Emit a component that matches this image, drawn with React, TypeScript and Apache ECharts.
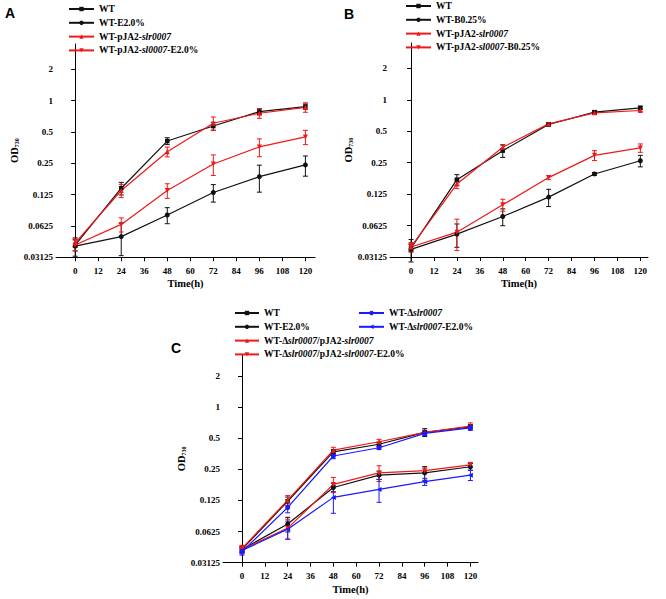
import React, { useEffect, useRef } from "react";
import * as echarts from "echarts";

// ---------- shared axes ----------
const times = [0, 24, 48, 72, 96, 120];
const xTicks = [0, 12, 24, 36, 48, 60, 72, 84, 96, 108, 120];
const yTicks = [0.03125, 0.0625, 0.125, 0.25, 0.5, 1, 2];
const yTickLabels = ["0.03125", "0.0625", "0.125", "0.25", "0.5", "1", "2"];

// ---------- panel A ----------
const namesA = ["WT", "WT-E2.0%", "WT-pJA2-slr0007", "WT-pJA2-sl0007-E2.0%"];
const aWT = [0.041, 0.144, 0.409, 0.57, 0.785, 0.877];
const aWTErr = [0.005, 0.02, 0.031, 0.05, 0.05, 0.05];
const aWTE = [0.04, 0.0494, 0.0797, 0.131, 0.186, 0.241];
const aWTEErr = [0.008, 0.017, 0.014, 0.025, 0.054, 0.053];
const aPJA = [0.043, 0.137, 0.323, 0.606, 0.756, 0.863];
const aPJAErr = [0.004, 0.02, 0.035, 0.09, 0.08, 0.09];
const aPJAE = [0.041, 0.0647, 0.137, 0.246, 0.359, 0.448];
const aPJAEErr = [0.005, 0.01, 0.022, 0.055, 0.07, 0.07];

// ---------- panel B ----------
const namesB = ["WT", "WT-B0.25%", "WT-pJA2-slr0007", "WT-pJA2-sl0007-B0.25%"];
const bWT = [0.038, 0.172, 0.326, 0.58, 0.761, 0.838];
const bWTErr = [0.003, 0.02, 0.045, 0.02, 0.03, 0.03];
const bWTB = [0.037, 0.0517, 0.0763, 0.117, 0.195, 0.261];
const bWTBErr = [0.009, 0.013, 0.014, 0.022, 0.006, 0.033];
const bPJA = [0.039, 0.156, 0.351, 0.588, 0.75, 0.79];
const bPJAErr = [0.003, 0.015, 0.016, 0.015, 0.02, 0.02];
const bPJAB = [0.039, 0.054, 0.0987, 0.18, 0.294, 0.346];
const bPJABErr = [0.004, 0.018, 0.013, 0.008, 0.032, 0.032];

// ---------- panel C ----------
const namesC = [
  "WT",
  "WT-E2.0%",
  "WT-Δslr0007/pJA2-slr0007",
  "WT-Δslr0007/pJA2-slr0007-E2.0%",
  "WT-Δslr0007",
  "WT-Δslr0007-E2.0%",
];
const cWT = [0.042, 0.123, 0.37, 0.438, 0.57, 0.646];
const cWTErr = [0.003, 0.012, 0.02, 0.02, 0.05, 0.03];
const cWTE = [0.042, 0.074, 0.167, 0.22, 0.231, 0.265];
const cWTEErr = [0.003, 0.012, 0.015, 0.02, 0.035, 0.02];
const cComp = [0.043, 0.126, 0.384, 0.463, 0.57, 0.655];
const cCompErr = [0.003, 0.014, 0.025, 0.025, 0.03, 0.05];
const cCompE = [0.042, 0.0675, 0.179, 0.231, 0.243, 0.277];
const cCompEErr = [0.003, 0.015, 0.03, 0.04, 0.015, 0.015];
const cDel = [0.04, 0.107, 0.337, 0.405, 0.558, 0.632];
const cDelErr = [0.003, 0.012, 0.02, 0.015, 0.025, 0.035];
const cDelE = [0.041, 0.066, 0.134, 0.16, 0.19, 0.22];
const cDelEErr = [0.003, 0.013, 0.04, 0.04, 0.015, 0.025];

// ---------- styles ----------
const BLACK = "#111111";
const RED = "#f01818";
const BLUE = "#1a1aff";
const FONT = "Liberation Serif";

type Sty = { color: string; symbol: string; rotate: number };
const stSquare: Sty = { color: BLACK, symbol: "rect", rotate: 0 };
const stCircle: Sty = { color: BLACK, symbol: "circle", rotate: 0 };
const stUp: Sty = { color: RED, symbol: "triangle", rotate: 0 };
const stDown: Sty = { color: RED, symbol: "triangle", rotate: 180 };
const stBlueCircle: Sty = { color: BLUE, symbol: "circle", rotate: 0 };
const stBlueLeft: Sty = { color: BLUE, symbol: "triangle", rotate: 90 };

const richName = (n: string) => n.replace(/(slr0007|sl0007)/g, "{i|$1}");

const legendText = {
  fontFamily: FONT,
  fontWeight: "bold" as const,
  fontSize: 9.5,
  color: "#000",
  rich: {
    i: { fontFamily: FONT, fontWeight: "bold" as const, fontStyle: "italic" as const, fontSize: 9.5, color: "#000" },
  },
};

function buildPanel(
  gi: number,
  names: string[],
  vals: number[][],
  errs: number[][],
  stys: Sty[]
) {
  const out: any[] = [];
  names.forEach((name, k) => {
    const st = stys[k];
    out.push({
      type: "line",
      name,
      xAxisIndex: gi,
      yAxisIndex: gi,
      data: times.map((t, i) => [t, vals[k][i]]),
      symbol: st.symbol,
      symbolRotate: st.rotate,
      symbolSize: st.symbol === "rect" ? 4.5 : 5,
      showSymbol: true,
      lineStyle: { color: st.color, width: 1.2 },
      itemStyle: { color: st.color },
      z: 3,
    });
    out.push({
      type: "custom",
      name: "err-" + gi + "-" + k,
      xAxisIndex: gi,
      yAxisIndex: gi,
      data: times.map((t, i) => [t, vals[k][i] - errs[k][i], vals[k][i] + errs[k][i]]),
      encode: { x: 0, y: [1, 2] },
      z: 2,
      renderItem: (_p: any, api: any) => {
        const x = api.value(0);
        const top = api.coord([x, api.value(2)]);
        const bot = api.coord([x, api.value(1)]);
        const w = 2.5;
        const s = { stroke: st.color, lineWidth: 1 };
        return {
          type: "group",
          children: [
            { type: "line", shape: { x1: top[0], y1: top[1], x2: bot[0], y2: bot[1] }, style: s },
            { type: "line", shape: { x1: top[0] - w, y1: top[1], x2: top[0] + w, y2: top[1] }, style: s },
            { type: "line", shape: { x1: bot[0] - w, y1: bot[1], x2: bot[0] + w, y2: bot[1] }, style: s },
          ],
        };
      },
    });
  });
  return out;
}

const axisFont = { fontFamily: FONT, fontWeight: "bold" as const, fontSize: 9, color: "#000" };

function xAxis(gi: number, min: number, max: number) {
  return {
    type: "value",
    gridIndex: gi,
    min,
    max,
    name: "Time(h)",
    nameLocation: "middle",
    nameGap: 21,
    nameTextStyle: { fontFamily: FONT, fontWeight: "bold", fontSize: 10.5, color: "#000" },
    axisLine: { show: true, onZero: false, lineStyle: { color: "#000", width: 1 } },
    axisTick: { show: true, length: 4, lineStyle: { color: "#000" }, customValues: xTicks },
    axisLabel: { ...axisFont, margin: 9, customValues: xTicks, formatter: (v: number) => String(v) },
    splitLine: { show: false },
  };
}

function yAxis(gi: number, max: number) {
  return {
    type: "log",
    logBase: 2,
    gridIndex: gi,
    min: 0.03125,
    max,
    name: "{a|OD}{b|730}",
    nameLocation: "middle",
    nameGap: 25,
    nameRotate: 90,
    nameTextStyle: {
      rich: {
        a: { fontFamily: FONT, fontWeight: "bold", fontSize: 10.5, color: "#000" },
        b: { fontFamily: FONT, fontWeight: "bold", fontSize: 6, color: "#000", verticalAlign: "bottom", padding: [4, 0, 0, 0] },
      },
    },
    axisLine: { show: true, lineStyle: { color: "#000", width: 1 } },
    axisTick: { show: true, length: 4, lineStyle: { color: "#000" }, customValues: yTicks },
    axisLabel: {
      ...axisFont,
      margin: 3,
      customValues: yTicks,
      formatter: (v: number) => {
        let best = 0;
        yTicks.forEach((t, i) => {
          if (Math.abs(Math.log2(t) - Math.log2(v)) < Math.abs(Math.log2(yTicks[best]) - Math.log2(v))) best = i;
        });
        return yTickLabels[best];
      },
    },
    splitLine: { show: false },
  };
}

export default function App() {
  const ref = useRef<HTMLDivElement>(null);
  useEffect(() => {
    if (!ref.current) return;
    const chart = echarts.init(ref.current, undefined, { renderer: "svg" });
    const series = [
      ...buildPanel(0, namesA, [aWT, aWTE, aPJA, aPJAE], [aWTErr, aWTEErr, aPJAErr, aPJAEErr], [stSquare, stCircle, stUp, stDown]),
      ...buildPanel(1, namesB, [bWT, bWTB, bPJA, bPJAB], [bWTErr, bWTBErr, bPJAErr, bPJABErr], [stSquare, stCircle, stUp, stDown]),
      ...buildPanel(
        2,
        namesC,
        [cWT, cWTE, cComp, cCompE, cDel, cDelE],
        [cWTErr, cWTEErr, cCompErr, cCompEErr, cDelErr, cDelEErr],
        [stSquare, stCircle, stUp, stDown, stBlueCircle, stBlueLeft]
      ),
    ];
    const legendBase = {
      orient: "vertical",
      itemWidth: 25,
      itemHeight: 5.5,
      itemGap: 3.8,
      textStyle: legendText,
      formatter: richName,
      selectedMode: false,
      padding: 0,
    };
    chart.setOption({
      animation: false,
      backgroundColor: "#fff",
      grid: [
        { left: 56, top: 44, width: 259, height: 213.3 },
        { left: 390, top: 43, width: 258, height: 214 },
        { left: 223, top: 355, width: 255, height: 207.7 },
      ],
      xAxis: [xAxis(0, -10, 125), xAxis(1, -11, 124), xAxis(2, -10, 124)],
      yAxis: [yAxis(0, 3.5), yAxis(1, 3.5), yAxis(2, 3.2)],
      legend: [
        { ...legendBase, left: 68, top: 4, data: namesA },
        { ...legendBase, left: 405, top: 1, data: namesB },
        { ...legendBase, left: 234, top: 308, itemWidth: 24, data: namesC.slice(0, 4) },
        { ...legendBase, left: 358, top: 308, data: namesC.slice(4) },
      ],
      graphic: [
        { type: "text", left: 5, top: 6, style: { text: "A", font: "bold 14px 'Liberation Sans', Arial, sans-serif", fill: "#000" } },
        { type: "text", left: 344, top: 7, style: { text: "B", font: "bold 14px 'Liberation Sans', Arial, sans-serif", fill: "#000" } },
        { type: "text", left: 171, top: 341, style: { text: "C", font: "bold 14px 'Liberation Sans', Arial, sans-serif", fill: "#000" } },
      ],
      series,
    });
    return () => chart.dispose();
  }, []);
  return <div ref={ref} style={{ position: "absolute", left: 0, top: 0, width: 666, height: 599 }} />;
}
